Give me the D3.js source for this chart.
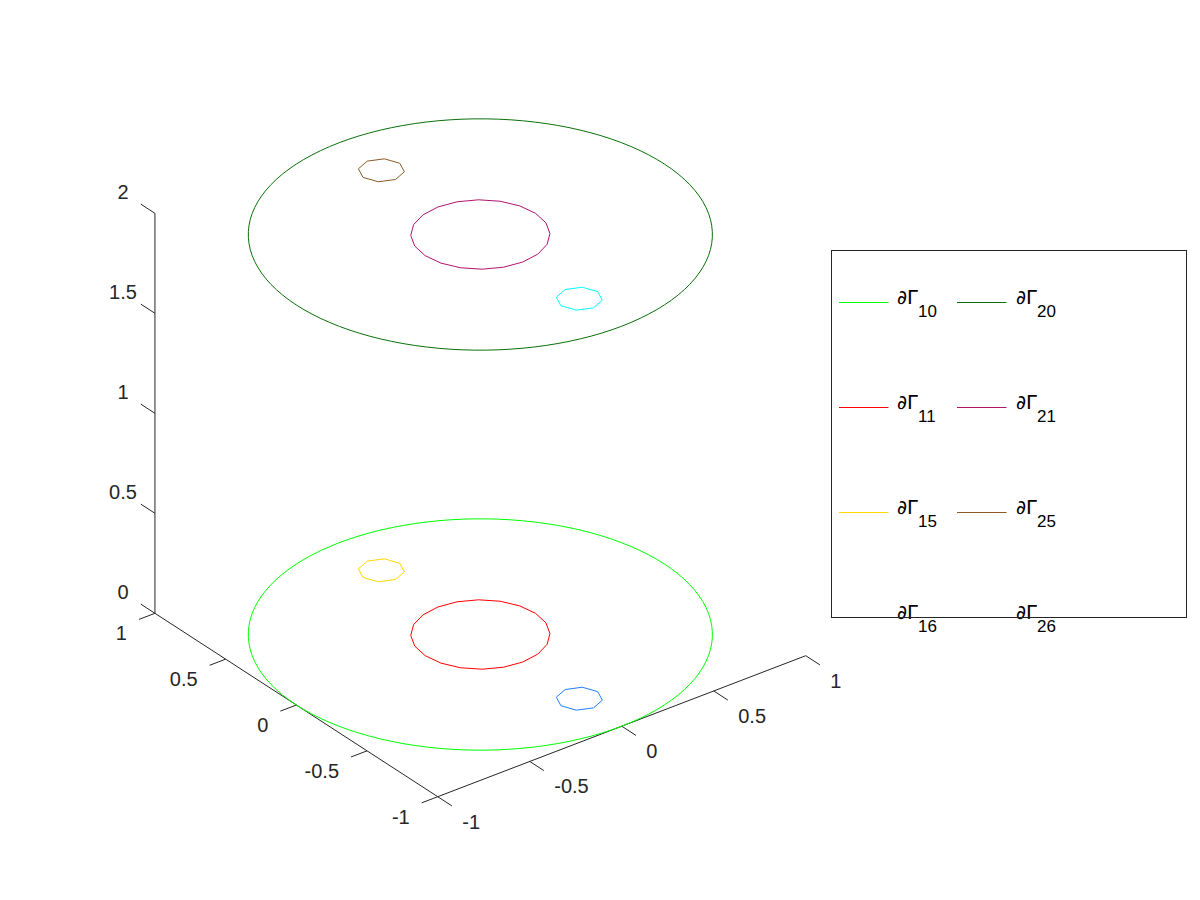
<!DOCTYPE html>
<html>
<head>
<meta charset="utf-8">
<script src="https://cdn.jsdelivr.net/npm/d3@7"></script>
<style>
  html, body { margin: 0; padding: 0; background: #ffffff; }
  svg { display: block; }
  text { font-family: "Liberation Sans", Arial, Helvetica, sans-serif; }
</style>
</head>
<body>
<svg id="chart" width="1200" height="900"></svg>
<script>
// ---------------- data ----------------
const curveNames    = ["10", "11", "15", "16", "20", "21", "25", "26"];
const curveColors   = ["#00ff00", "#ff0000", "#ffd700", "#1f7fff", "#0a700a", "#b3126e", "#8c5a28", "#00ffff"];
const curveCenterX  = [0, 0, 0, 0, 0, 0, 0, 0];
const curveCenterY  = [0, 0, 0.7, -0.7, 0, 0, 0.7, -0.7];
const curveRadius   = [1, 0.3, 0.1, 0.1, 1, 0.3, 0.1, 0.1];
const curveZ        = [0, 0, 0, 0, 2, 2, 2, 2];
const curveSegments = [120, 20, 8, 8, 120, 20, 8, 8];

const xTicks = [-1, -0.5, 0, 0.5, 1];
const yTicks = [-1, -0.5, 0, 0.5, 1];
const zTicks = [0, 0.5, 1, 1.5, 2];
const tickLabel = v => String(v);

// ---------------- projection via d3 scales ----------------
const origin = [480.35, 634.5];
const xH = d3.scaleLinear().domain([-1, 1]).range([-184, 184]);
const xV = d3.scaleLinear().domain([-1, 1]).range([70.5, -70.5]);
const yH = d3.scaleLinear().domain([-1, 1]).range([141.4, -141.4]);
const yV = d3.scaleLinear().domain([-1, 1]).range([91.7, -91.7]);
const zV = d3.scaleLinear().domain([0, 2]).range([0, -400]);
function proj(x, y, z) {
  return [origin[0] + xH(x) + yH(y), origin[1] + xV(x) + yV(y) + zV(z)];
}

const svg = d3.select("#chart");
const axisColor = "#262626";
const g = svg.append("g");

// axis lines
const lineGen = d3.line();
g.append("path").attr("d", lineGen([proj(-1, -1, 0), proj(-1, 1, 0)]))
  .attr("stroke", axisColor).attr("fill", "none").attr("stroke-width", 1);
g.append("path").attr("d", lineGen([proj(-1, -1, 0), proj(1, -1, 0)]))
  .attr("stroke", axisColor).attr("fill", "none").attr("stroke-width", 1);
g.append("path").attr("d", lineGen([proj(-1, 1, 0), proj(-1, 1, 2)]))
  .attr("stroke", axisColor).attr("fill", "none").attr("stroke-width", 1);

// x ticks (along y = -1 edge)
xTicks.forEach(v => {
  const a = proj(v, -1, 0), b = proj(v, -1.1, 0);
  g.append("path").attr("d", lineGen([a, b])).attr("stroke", axisColor).attr("fill", "none");
  g.append("text").attr("x", a[0] + 24.5).attr("y", a[1] + 25)
    .attr("dominant-baseline", "central").attr("text-anchor", "start")
    .attr("font-size", 20).attr("fill", axisColor).text(tickLabel(v));
});
// y ticks (along x = -1 edge)
yTicks.forEach(v => {
  const a = proj(-1, v, 0), b = proj(-1.087, v, 0);
  g.append("path").attr("d", lineGen([a, b])).attr("stroke", axisColor).attr("fill", "none");
  g.append("text").attr("x", a[0] - 28).attr("y", a[1] + 20)
    .attr("dominant-baseline", "central").attr("text-anchor", "end")
    .attr("font-size", 20).attr("fill", axisColor).text(tickLabel(v));
});
// z ticks (at corner x=-1, y=1)
zTicks.forEach(v => {
  const a = proj(-1, 1, v), b = proj(-1, 1.1, v);
  g.append("path").attr("d", lineGen([a, b])).attr("stroke", axisColor).attr("fill", "none");
  g.append("text").attr("x", a[0] - 32).attr("y", a[1] - 21.5)
    .attr("dominant-baseline", "central").attr("text-anchor", "middle")
    .attr("font-size", 20).attr("fill", axisColor).text(tickLabel(v));
});

// curves
curveNames.forEach((name, i) => {
  const pts = d3.range(curveSegments[i] + 1).map(k => {
    const t = 2 * Math.PI * k / curveSegments[i];
    return proj(curveCenterX[i] + curveRadius[i] * Math.cos(t),
                curveCenterY[i] + curveRadius[i] * Math.sin(t),
                curveZ[i]);
  });
  g.append("path").attr("d", lineGen(pts)).attr("fill", "none")
    .attr("stroke", curveColors[i]).attr("stroke-width", 1);
});

// legend
const box = { x: 831.5, y: 250.5, w: 355, h: 367 };
const lg = svg.append("g");
lg.append("rect").attr("x", box.x).attr("y", box.y).attr("width", box.w).attr("height", box.h)
  .attr("fill", "#ffffff").attr("stroke", "none");
svg.append("defs").append("clipPath").attr("id", "legclip")
  .append("rect").attr("x", box.x).attr("y", box.y).attr("width", box.w).attr("height", box.h - 1);
const rowsPerCol = 4;
const colLineX = [839, 957];
const colTextX = [897, 1016];
const rowY0 = 302.5, rowStep = 105;
const samples = lg.append("g").attr("clip-path", "url(#legclip)");
curveNames.forEach((name, i) => {
  const col = Math.floor(i / rowsPerCol), row = i % rowsPerCol;
  const y = rowY0 + row * rowStep;
  samples.append("line").attr("x1", colLineX[col]).attr("x2", colLineX[col] + 49.5)
    .attr("y1", y).attr("y2", y).attr("stroke", curveColors[i]).attr("stroke-width", 1);
  const t = lg.append("text").attr("x", colTextX[col]).attr("y", y + 1)
    .attr("fill", "#000000");
  t.append("tspan").style("font-family", "'DejaVu Sans', sans-serif").style("font-size", "19.5px").text("∂Γ");
  t.append("tspan").attr("dy", 13.5).attr("dx", 0).style("font-size", "17px").text(name);
});
lg.append("rect").attr("x", box.x).attr("y", box.y).attr("width", box.w).attr("height", box.h)
  .attr("fill", "none").attr("stroke", axisColor).attr("stroke-width", 1);
</script>
</body>
</html>
